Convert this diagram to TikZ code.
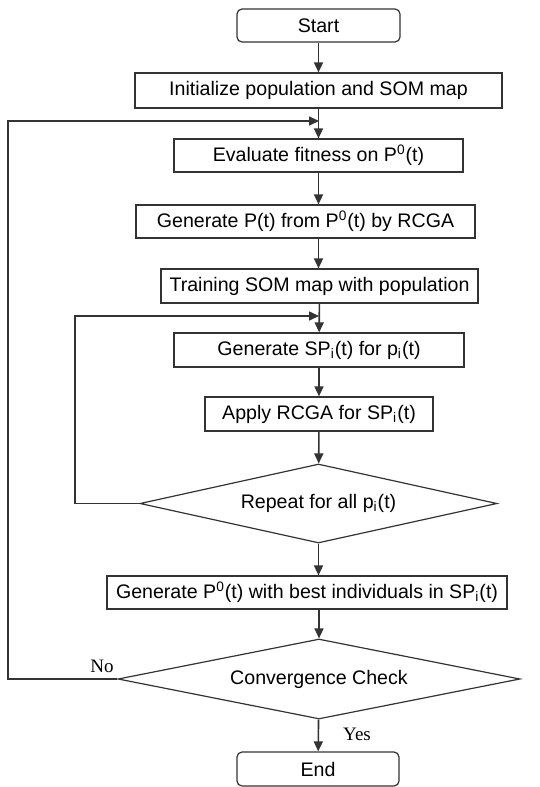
\documentclass[tikz,border=0pt]{standalone}
\usepackage{fontspec}
\setmainfont{Liberation Sans}
\newfontfamily\lblfont{Liberation Serif}
\usetikzlibrary{shapes.geometric,arrows.meta}

\tikzset{
  box/.style={draw=black!80, line width=0.6pt, fill=white, inner sep=0pt,
    minimum height=16.5pt, font=\fontsize{9.8}{12}\selectfont},
  term/.style={box, rounded corners=2.5pt},
  cond/.style={box, diamond, aspect=4.5},
  flow/.style={draw=black!80, line width=0.8pt, -{Triangle[length=5pt,width=4.5pt]}},
  lbl/.style={font=\lblfont\fontsize{9.5}{11}\selectfont, inner sep=1pt},
}

\begin{document}
\begin{tikzpicture}[x=0.5pt,y=-0.5pt]  % 坐标按像素给出

    \useasboundingbox (0,0) rectangle (540,787);

    % 开始与初始化
    \node[term, minimum width=81.5pt] (start) at (318.5,25.5) {Start};
    \node[box, minimum width=183.5pt, minimum height=17.5pt] (init) at (318.5,90.5) {Initialize population and SOM map};

    % 外层循环中的步骤
    \node[box, minimum width=144.5pt] (eval) at (318.5,155.5) {Evaluate fitness on P\textsuperscript{0}(t)};
    \node[box, minimum width=169.5pt] (genP) at (305.5,221.5) {Generate P(t) from P\textsuperscript{0}(t) by RCGA};
    \node[box, minimum width=158.5pt, minimum height=17pt] (train) at (319.5,286) {Training SOM map with population};

    % 内层循环中的步骤
    \node[box, minimum width=145pt, minimum height=17pt] (genSP) at (319,350) {Generate SP\textsubscript{i}(t) for p\textsubscript{i}(t)};
    \node[box, minimum width=114pt, minimum height=17pt] (apply) at (319,414) {Apply RCGA for SP\textsubscript{i}(t)};
    \node[cond, minimum width=178.5pt, minimum height=39.5pt] (repeat) at (318.5,503.5) {Repeat for all p\textsubscript{i}(t)};

    % 收敛判断与结束
    \node[box, minimum width=200pt] (genP0) at (307,592.5) {Generate P\textsuperscript{0}(t) with best individuals in SP\textsubscript{i}(t)};
    \node[cond, minimum width=201pt, minimum height=40pt] (conv) at (319,679) {Convergence Check};
    \node[term, minimum width=81pt, minimum height=17pt] (end) at (318,769) {End};

    % 循环的拐点
    \coordinate (j1) at (319,121);
    \coordinate (o1) at (8,121);
    \coordinate (j2) at (319,316);
    \coordinate (o2) at (75,316);

    % 主流程箭头
    \draw[flow] (start) -- (init);
    \draw[flow] (init) -- (eval);
    \draw[flow] (eval.south) -- (eval.south |- genP.north);
    \draw[flow] (genP.south -| eval) -- (train.north -| eval);
    \draw[flow] (train) -- (genSP);
    \draw[flow] (genSP) -- (apply);
    \draw[flow] (apply) -- (repeat);
    \draw[flow] (repeat.south) -- (genP0.north -| repeat);
    \draw[flow] (genP0.south -| conv) -- (conv.north);
    \draw[flow] (conv) -- (end);

    % 两个回路
    \draw[flow] (repeat.west) -| (o2) -- (j2);
    \draw[flow] (conv.west) -| (o1) -- (j1);

    % 标签
    \node[lbl] (no) at (102,666) {No};
    \node[lbl] (yes) at (357,734) {Yes};

\end{tikzpicture}
\end{document}
